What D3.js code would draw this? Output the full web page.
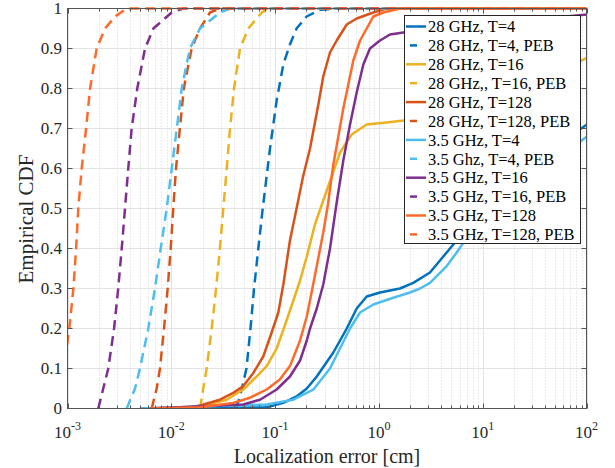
<!DOCTYPE html>
<html>
<head>
<meta charset="utf-8">
<script src="https://cdn.jsdelivr.net/npm/d3@7"></script>
<style>
  body { margin: 0; background: #fff; }
  svg { display: block; font-family: "Liberation Serif", "Times New Roman", serif; }
</style>
</head>
<body>
<div id="chart"></div>
<script>
// legend entries, in plot order
const labels = [
  "28 GHz, T=4", "28 GHz, T=4, PEB", "28 GHz, T=16", "28 GHz,, T=16, PEB",
  "28 GHz, T=128", "28 GHz, T=128, PEB", "3.5 GHz, T=4", "3.5 Ghz, T=4, PEB",
  "3.5 GHz, T=16", "3.5 GHz, T=16, PEB", "3.5 GHz, T=128", "3.5 GHz, T=128, PEB"
];

// localization error [cm] and empirical CDF
const err28T4 = [1.21e-2, 8.30e-2, 0.120, 0.161, 0.202, 0.252, 0.364, 0.490, 0.611, 0.763, 1.025, 1.596, 2.145, 3.105, 3.878, 4.84, 6.04, 14.7, 35.6, 101];
const cdf28T4 = [0, 0.003, 0.014, 0.03, 0.05, 0.08, 0.14, 0.20, 0.25, 0.28, 0.29, 0.30, 0.314, 0.34, 0.37, 0.40, 0.43, 0.55, 0.63, 0.71];

const err28T4peb = [4.20e-2, 4.59e-2, 5.30e-2, 5.79e-2, 6.27e-2, 6.89e-2, 7.60e-2, 8.93e-2, 0.1035, 0.120, 0.139, 0.161, 0.201, 0.271, 0.422, 100];
const cdf28T4peb = [0, 0.03, 0.1, 0.2, 0.3, 0.4, 0.5, 0.65, 0.77, 0.86, 0.91, 0.95, 0.98, 0.997, 1, 1];

const err28T16 = [6.24e-3, 1.89e-2, 3.42e-2, 4.94e-2, 6.65e-2, 8.30e-2, 0.1036, 0.125, 0.150, 0.174, 0.202, 0.242, 0.291, 0.351, 0.422, 0.547, 0.763, 1.189, 1.718, 4.84, 22.9, 108];
const cdf28T16 = [0, 0.005, 0.022, 0.0475, 0.08, 0.106, 0.15, 0.21, 0.27, 0.32, 0.38, 0.46, 0.52, 0.58, 0.64, 0.685, 0.71, 0.715, 0.72, 0.74, 0.80, 0.88];

const err28T16peb = [1.89e-2, 2.03e-2, 2.19e-2, 2.45e-2, 2.70e-2, 2.94e-2, 3.17e-2, 3.42e-2, 3.68e-2, 4.02e-2, 4.59e-2, 5.52e-2, 7.43e-2, 8.59e-2, 100];
const cdf28T16peb = [0, 0.05, 0.1, 0.2, 0.3, 0.4, 0.5, 0.6, 0.7, 0.8, 0.9, 0.95, 0.99, 1, 1];

const err28T128 = [4.99e-3, 1.51e-2, 1.89e-2, 2.94e-2, 3.95e-2, 4.94e-2, 6.17e-2, 7.69e-2, 9.27e-2, 0.1074, 0.120, 0.139, 0.161, 0.186, 0.217, 0.261, 0.291, 0.338, 0.392, 0.490, 0.611, 0.883, 1.189, 100];
const cdf28T128 = [0, 0.003, 0.0075, 0.022, 0.039, 0.056, 0.089, 0.13, 0.19, 0.24, 0.31, 0.42, 0.50, 0.58, 0.65, 0.76, 0.83, 0.89, 0.92, 0.96, 0.975, 0.99, 1, 1];

const err28T128peb = [6.47e-3, 7.23e-3, 7.78e-3, 8.51e-3, 9.23e-3, 9.87e-3, 1.045e-2, 1.11e-2, 1.21e-2, 1.32e-2, 1.57e-2, 1.89e-2, 2.36e-2, 2.94e-2, 100];
const cdf28T128peb = [0, 0.05, 0.1, 0.2, 0.3, 0.4, 0.5, 0.6, 0.7, 0.8, 0.9, 0.95, 0.99, 1, 1];

const err35T4 = [4.99e-3, 8.30e-2, 0.150, 0.233, 0.338, 0.422, 0.527, 0.658, 0.883, 1.376, 1.994, 2.489, 3.105, 4.50, 5.62, 6.50, 14.7, 35.6, 101];
const cdf35T4 = [0, 0.01, 0.022, 0.047, 0.10, 0.15, 0.20, 0.24, 0.26, 0.277, 0.29, 0.30, 0.314, 0.356, 0.39, 0.414, 0.50, 0.59, 0.68];

const err35T4peb = [3.72e-3, 4.47e-3, 4.99e-3, 6.00e-3, 6.96e-3, 7.91e-3, 9.03e-3, 1.01e-2, 1.13e-2, 1.26e-2, 1.51e-2, 1.89e-2, 2.94e-2, 3.68e-2, 100];
const cdf35T4peb = [0, 0.05, 0.1, 0.2, 0.3, 0.4, 0.5, 0.6, 0.7, 0.8, 0.9, 0.95, 0.99, 1, 1];

const err35T16 = [6.24e-3, 4.94e-2, 7.15e-2, 0.1036, 0.139, 0.174, 0.202, 0.217, 0.252, 0.291, 0.338, 0.392, 0.454, 0.527, 0.611, 0.708, 0.820, 1.025, 1.279, 1.718, 9.42, 101];
const cdf35T16 = [0, 0.01, 0.022, 0.0475, 0.08, 0.12, 0.17, 0.20, 0.25, 0.31, 0.40, 0.515, 0.62, 0.71, 0.79, 0.86, 0.90, 0.92, 0.935, 0.94, 0.96, 0.985];

const err35T16peb = [1.98e-3, 2.21e-3, 2.47e-3, 2.81e-3, 3.08e-3, 3.33e-3, 3.58e-3, 3.85e-3, 4.15e-3, 4.70e-3, 5.58e-3, 6.72e-3, 1.01e-2, 1.31e-2, 100];
const cdf35T16peb = [0, 0.05, 0.1, 0.2, 0.3, 0.4, 0.5, 0.6, 0.7, 0.8, 0.9, 0.95, 0.99, 1, 1];

const err35T128 = [6.24e-3, 1.89e-2, 3.95e-2, 5.73e-2, 8.30e-2, 0.111, 0.139, 0.174, 0.202, 0.217, 0.252, 0.291, 0.323, 0.364, 0.454, 0.567, 0.658, 0.763, 0.883, 1.103, 1.596, 100];
const cdf35T128 = [0, 0.003, 0.014, 0.027, 0.0475, 0.0725, 0.106, 0.17, 0.23, 0.27, 0.356, 0.44, 0.51, 0.61, 0.75, 0.87, 0.92, 0.95, 0.98, 0.99, 1, 1];

const err35T128peb = [8.5e-4, 9.0e-4, 9.8e-4, 1.04e-3, 1.14e-3, 1.21e-3, 1.27e-3, 1.37e-3, 1.51e-3, 1.65e-3, 1.91e-3, 2.30e-3, 2.87e-3, 3.72e-3, 100];
const cdf35T128peb = [0, 0.05, 0.15, 0.2, 0.3, 0.4, 0.5, 0.6, 0.7, 0.8, 0.9, 0.95, 0.98, 1, 1];

const yTicks = [0, 0.1, 0.2, 0.3, 0.4, 0.5, 0.6, 0.7, 0.8, 0.9, 1];
const xTickExp = [-3, -2, -1, 0, 1, 2];

// pair up series with their look
const series = [
  [err28T4, cdf28T4], [err28T4peb, cdf28T4peb],
  [err28T16, cdf28T16], [err28T16peb, cdf28T16peb],
  [err28T128, cdf28T128], [err28T128peb, cdf28T128peb],
  [err35T4, cdf35T4], [err35T4peb, cdf35T4peb],
  [err35T16, cdf35T16], [err35T16peb, cdf35T16peb],
  [err35T128, cdf35T128], [err35T128peb, cdf35T128peb]
];
const colors = ["#0072BD", "#0072BD", "#EDB120", "#EDB120", "#D95319", "#D95319",
                "#4DBEEE", "#4DBEEE", "#7E2F8E", "#7E2F8E", "#FF6A2B", "#FF6A2B"];
const dashed = [false, true, false, true, false, true, false, true, false, true, false, true];

const width = 615, height = 468;
const svg = d3.select("#chart").append("svg").attr("width", width).attr("height", height);

const x = d3.scaleLog().domain([1e-3, 1e2]).range([67.5, 586.5]);
const y = d3.scaleLinear().domain([0, 1]).range([408.5, 8.5]);
const [x0, x1] = x.range();
const [y0, y1] = y.range();

// grid
const minor = x.ticks().filter(v => !xTickExp.some(e => Math.abs(Math.log10(v) - e) < 1e-6));
svg.append("g").selectAll("line").data(minor).join("line")
  .attr("x1", d => Math.round(x(d)) + 0.5).attr("x2", d => Math.round(x(d)) + 0.5)
  .attr("y1", y1).attr("y2", y0)
  .attr("stroke", "#d6d6d6").attr("stroke-dasharray", "1,2");
svg.append("g").selectAll("line").data(xTickExp).join("line")
  .attr("x1", d => Math.round(x(10 ** d)) + 0.5).attr("x2", d => Math.round(x(10 ** d)) + 0.5)
  .attr("y1", y1).attr("y2", y0).attr("stroke", "#e3e3e3");
svg.append("g").selectAll("line").data(yTicks).join("line")
  .attr("x1", x0).attr("x2", x1).attr("y1", d => y(d)).attr("y2", d => y(d))
  .attr("stroke", "#e3e3e3");

// curves
svg.append("clipPath").attr("id", "plotClip").append("rect")
  .attr("x", x0).attr("y", y1 - 2).attr("width", x1 - x0).attr("height", y0 - y1 + 2);

const line = d3.line().x(d => x(d[0])).y(d => y(d[1]));
svg.append("g").attr("clip-path", "url(#plotClip)")
  .selectAll("path").data(series).join("path")
  .attr("d", s => line(d3.zip(s[0], s[1])))
  .attr("fill", "none")
  .attr("stroke", (s, i) => colors[i])
  .attr("stroke-width", 2.5)
  .attr("stroke-linejoin", "round")
  .attr("stroke-dasharray", (s, i) => dashed[i] ? "10,6" : null);

// axes box and ticks
const axisColor = "#262626";
svg.append("rect").attr("x", x0).attr("y", y1).attr("width", x1 - x0).attr("height", y0 - y1)
  .attr("fill", "none").attr("stroke", "#555").attr("stroke-width", 1);

const tk = svg.append("g").attr("stroke", "#555");
minor.forEach(v => {
  const px = Math.round(x(v)) + 0.5;
  tk.append("line").attr("x1", px).attr("x2", px).attr("y1", y0).attr("y2", y0 - 3);
  tk.append("line").attr("x1", px).attr("x2", px).attr("y1", y1).attr("y2", y1 + 3);
});
xTickExp.forEach(e => {
  const px = Math.round(x(10 ** e)) + 0.5;
  tk.append("line").attr("x1", px).attr("x2", px).attr("y1", y0).attr("y2", y0 - 5);
  tk.append("line").attr("x1", px).attr("x2", px).attr("y1", y1).attr("y2", y1 + 5);
});
yTicks.forEach(v => {
  tk.append("line").attr("x1", x0).attr("x2", x0 + 5).attr("y1", y(v)).attr("y2", y(v));
  tk.append("line").attr("x1", x1).attr("x2", x1 - 5).attr("y1", y(v)).attr("y2", y(v));
});

// tick labels
svg.append("g").selectAll("text").data(yTicks).join("text")
  .attr("x", 62).attr("y", d => y(d)).attr("dy", "0.35em")
  .attr("text-anchor", "end").attr("font-size", 17).attr("fill", axisColor)
  .text(d => d3.format("~g")(d));

const xl = svg.append("g").selectAll("text").data(xTickExp).join("text")
  .attr("x", d => x(10 ** d)).attr("y", 438)
  .attr("text-anchor", "middle").attr("font-size", 17).attr("fill", axisColor);
xl.append("tspan").text("10");
xl.append("tspan").attr("dy", -8).attr("font-size", 12).text(d => d);

// axis titles
svg.append("text").attr("x", (x0 + x1) / 2).attr("y", 463)
  .attr("text-anchor", "middle").attr("font-size", 20).attr("fill", axisColor)
  .text("Localization error [cm]");
svg.append("text").attr("transform", "translate(33,219) rotate(-90)")
  .attr("text-anchor", "middle").attr("font-size", 21).attr("fill", axisColor)
  .text("Empirical CDF");

// legend
const lg = svg.append("g");
lg.append("rect").attr("x", 404.5).attr("y", 15.5).attr("width", 176).attr("height", 228)
  .attr("fill", "#fff").attr("stroke", axisColor).attr("stroke-width", 1);
const rowH = 18.9;
labels.forEach((t, i) => {
  const cy = 26.5 + i * rowH;
  lg.append("line")
    .attr("x1", dashed[i] ? 410 : 406).attr("x2", dashed[i] ? 417 : 426)
    .attr("y1", cy).attr("y2", cy)
    .attr("stroke", colors[i]).attr("stroke-width", 2.5);
  lg.append("text").attr("x", 428).attr("y", cy).attr("dy", "0.35em")
    .attr("font-size", 16.5).attr("fill", "#000").text(t);
});
</script>
</body>
</html>
